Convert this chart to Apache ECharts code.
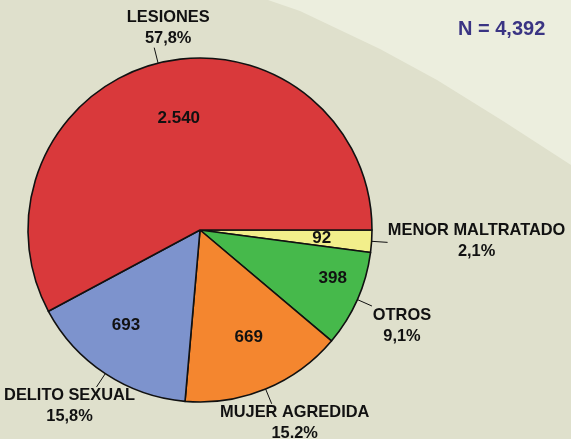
<!DOCTYPE html>
<html>
<head>
<meta charset="utf-8">
<script src="https://cdn.jsdelivr.net/npm/echarts@6/dist/echarts.min.js"></script>
<style>
    html, body { margin: 0; padding: 0; background: #dfe0cc; }
    #chart1 { width: 571px; height: 439px; }
</style>
</head>
<body>
<div id="chart1"></div>
<script>
    // datos (sentido horario desde las 3 en punto)
    var categories = ['MENOR MALTRATADO', 'OTROS', 'MUJER AGREDIDA', 'DELITO SEXUAL', 'LESIONES'];
    var values = [92, 398, 669, 693, 2540];
    var valueLabels = ['92', '398', '669', '693', '2.540'];
    var percentLabels = ['2,1%', '9,1%', '15.2%', '15,8%', '57,8%'];
    var totalLabel = 'N = 4,392';

    var colors = ['#f2ef8b', '#46b94b', '#f4862f', '#7d93cd', '#d9393b'];
    var font = '"Liberation Sans", Arial, sans-serif';

    // ajustes de posicion de las etiquetas
    var outerOffsets = [[-6, -1], [-65, 20], [-72, 19], [68, 19], [109, -20]];
    var innerOffsets = [[2, 0], [23, 0], [3, -4], [-8, -5], [8, 5]];

    var chart = echarts.init(document.getElementById('chart1'));

    var pieData = categories.map(function (name, i) {
        return {
            name: name,
            value: values[i],
            itemStyle: { color: colors[i] }
        };
    });

    var overlayData = categories.map(function (name, i) {
        return { name: name, value: values[i] };
    });

    var option = {
        animation: false,
        backgroundColor: '#dfe0cc',
        textStyle: { fontFamily: font },
        graphic: [
            {
                type: 'polygon',
                z: -10,
                silent: true,
                shape: {
                    points: [[268, 0], [571, 0], [571, 165], [503, 121], [437, 80], [380, 49], [300, 11]]
                },
                style: { fill: '#eceede' }
            },
            {
                type: 'text',
                left: 458,
                top: 19,
                style: {
                    text: totalLabel,
                    fill: '#3a3483',
                    font: 'bold 20px ' + font
                }
            }
        ],
        series: [
            {
                type: 'pie',
                center: [200, 230],
                radius: [0, 172],
                startAngle: 0,
                clockwise: true,
                avoidLabelOverlap: false,
                silent: true,
                itemStyle: { borderColor: '#111', borderWidth: 1.6 },
                label: {
                    show: true,
                    position: 'outside',
                    alignTo: 'none',
                    distanceToLabelLine: 0,
                    width: 190,
                    formatter: function (p) {
                        return '{n|' + p.name + '}\n{n|' + percentLabels[p.dataIndex] + '}';
                    },
                    rich: {
                        n: {
                            fontFamily: font,
                            fontSize: 16.4,
                            fontWeight: 'bold',
                            color: '#111',
                            align: 'center',
                            lineHeight: 21
                        }
                    }
                },
                labelLine: {
                    show: true,
                    length: 16,
                    length2: 0,
                    lineStyle: { color: '#111', width: 1 }
                },
                labelLayout: function (p) {
                    var o = outerOffsets[p.dataIndex];
                    return { dx: o[0], dy: o[1] };
                },
                data: pieData
            },
            {
                type: 'pie',
                center: [200, 230],
                radius: [0, 234],
                startAngle: 0,
                clockwise: true,
                silent: true,
                itemStyle: { color: 'rgba(0,0,0,0)', borderWidth: 0 },
                label: {
                    show: true,
                    position: 'inside',
                    fontFamily: font,
                    fontSize: 17,
                    fontWeight: 'bold',
                    color: '#111',
                    formatter: function (p) {
                        return valueLabels[p.dataIndex];
                    }
                },
                labelLine: { show: false },
                labelLayout: function (p) {
                    var o = innerOffsets[p.dataIndex];
                    return { dx: o[0], dy: o[1] };
                },
                data: overlayData
            }
        ]
    };

    chart.setOption(option, true);
</script>
</body>
</html>
